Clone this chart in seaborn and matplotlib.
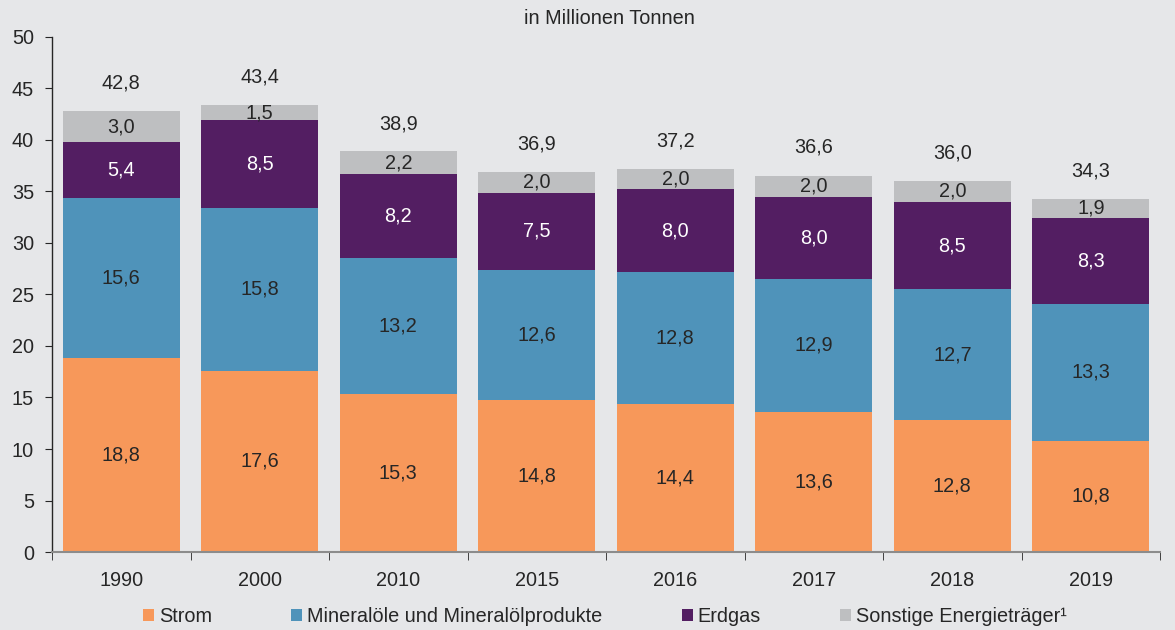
import numpy as np
import pandas as pd
import matplotlib
matplotlib.use("Agg")
import matplotlib.pyplot as plt
import seaborn as sns
from matplotlib.patches import Patch

# =========================================================
# DATA
# =========================================================
years = ["1990", "2000", "2010", "2015", "2016", "2017", "2018", "2019"]

strom = [18.8, 17.6, 15.3, 14.8, 14.4, 13.6, 12.8, 10.8]
mineraloel = [15.6, 15.8, 13.2, 12.6, 12.8, 12.9, 12.7, 13.3]
erdgas = [5.4, 8.5, 8.2, 7.5, 8.0, 8.0, 8.5, 8.3]
sonstige = [3.0, 1.5, 2.2, 2.0, 2.0, 2.0, 2.0, 1.9]
totals = [42.8, 43.4, 38.9, 36.9, 37.2, 36.6, 36.0, 34.3]

series_names = [
    "Strom",
    "Mineralöle und Mineralölprodukte",
    "Erdgas",
    "Sonstige Energieträger¹"
]
series_values = [strom, mineraloel, erdgas, sonstige]
colors = ["#F7985A", "#4F93BA", "#531E62", "#BEBFC1"]
text_colors = ["#262626", "#262626", "white", "#262626"]

# =========================================================
# STYLE
# =========================================================
BG = "#E6E7E9"
FS = 14.3
sns.set_style("white")
plt.rcParams["font.family"] = ["Liberation Sans", "DejaVu Sans"]
plt.rcParams["text.color"] = "#262626"

fig = plt.figure(figsize=(11.75, 6.3), dpi=100, facecolor=BG)
ax = fig.add_axes([0.0443, 0.1238, 0.9430, 0.8175])
ax.set_facecolor(BG)

# =========================================================
# STACKED BARS
# =========================================================
bottom = np.zeros(len(years))
for name, vals, col, tcol in zip(series_names, series_values, colors, text_colors):
    df = pd.DataFrame({"year": years, "value": vals})
    sns.barplot(
        data=df,
        x="year",
        y="value",
        color=col,
        saturation=1,
        width=0.845,
        bottom=bottom,
        ax=ax,
        linewidth=0
    )
    for i, v in enumerate(vals):
        ax.text(
            i, bottom[i] + v / 2, f"{v:.1f}".replace(".", ","),
            ha="center", va="center", fontsize=FS, color=tcol
        )
    bottom = bottom + np.array(vals)

for i, t in enumerate(totals):
    ax.text(
        i, t + 2.7, f"{t:.1f}".replace(".", ","),
        ha="center", va="center", fontsize=FS, color="#262626"
    )

# =========================================================
# AXES
# =========================================================
ax.set_xlim(-0.5, len(years) - 0.5)
ax.set_ylim(0, 50)
ax.set_yticks(range(0, 51, 5))
ax.set_xlabel("")
ax.set_ylabel("")

ax.tick_params(axis="y", labelsize=FS, length=5, direction="out",
               color="#262626", left=True, pad=8)
ax.tick_params(axis="x", which="major", labelsize=FS, length=0, pad=14)
ax.set_xticks(np.arange(-0.5, len(years), 1.0), minor=True)
ax.tick_params(axis="x", which="minor", length=6, direction="out",
               color="#262626", bottom=True)

for s in ["top", "right"]:
    ax.spines[s].set_visible(False)
ax.spines["left"].set_color("#262626")
ax.spines["left"].set_linewidth(1.0)
ax.spines["bottom"].set_color("#8C8C8C")
ax.spines["bottom"].set_linewidth(1.5)

fig.text(0.519, 0.971, "in Millionen Tonnen", ha="center", va="center",
         fontsize=FS, color="#262626")

# =========================================================
# LEGEND
# =========================================================
handles = [Patch(facecolor=c, edgecolor="none") for c in colors]
fig.legend(
    handles, series_names,
    loc="center", bbox_to_anchor=(0.515, 0.021),
    ncol=4, frameon=False, fontsize=FS,
    handlelength=0.55, handleheight=0.55, handletextpad=0.25,
    columnspacing=4.0, borderpad=0
)

plt.savefig("out.png", dpi=100, facecolor=BG)
